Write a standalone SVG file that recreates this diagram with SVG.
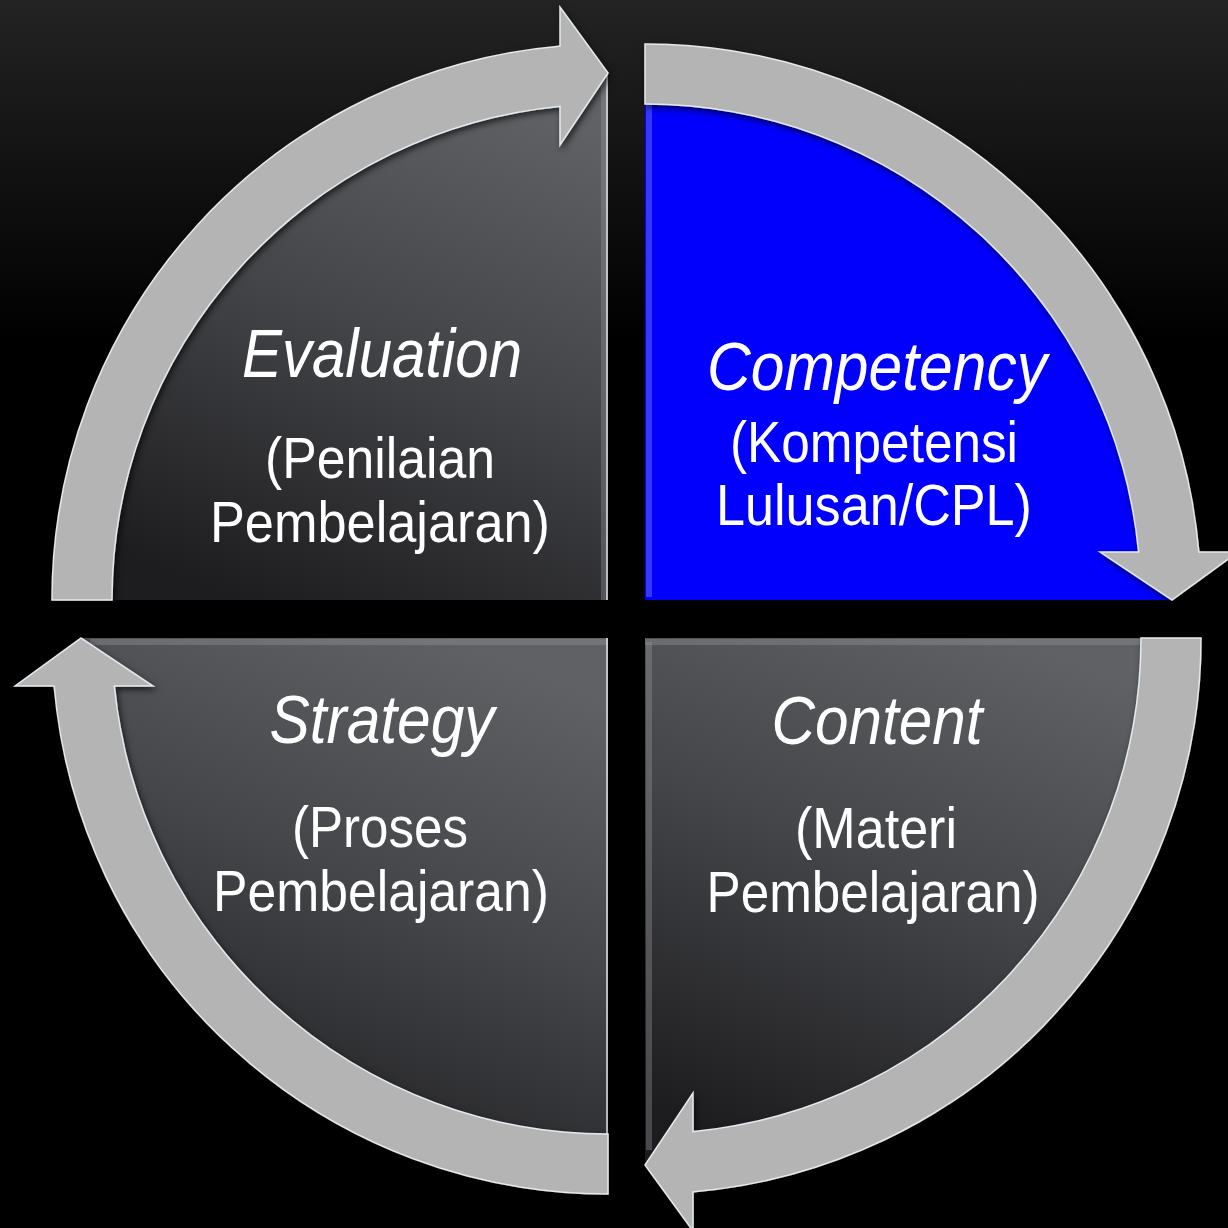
<svg xmlns="http://www.w3.org/2000/svg" width="1228" height="1228" viewBox="0 0 1228 1228">
  <defs>
    <linearGradient id="bg" x1="0" y1="0" x2="0" y2="1">
      <stop offset="0" stop-color="#232323"/>
      <stop offset="0.28" stop-color="#000000"/>
      <stop offset="1" stop-color="#000000"/>
    </linearGradient>
    <linearGradient id="dark" x1="0.7" y1="0" x2="0.3" y2="1">
      <stop offset="0" stop-color="#606164"/>
      <stop offset="0.45" stop-color="#45464a"/>
      <stop offset="1" stop-color="#1d1d1f"/>
    </linearGradient>
    <filter id="shadow" x="-10%" y="-10%" width="120%" height="120%">
      <feDropShadow dx="2" dy="3" stdDeviation="3" flood-color="#000" flood-opacity="0.65"/>
    </filter>
    <path id="band" d="M-556,0 A556,556 0 0 1 -48,-553.92 L-48,-593 L0,-527 L-48,-455 L-48,-493.67 A496,496 0 0 0 -496,0 Z"/>
  </defs>
  <style>
    .fill-dark { fill: url(#dark); }
    .fill-blue { fill: #0000fc; }
    .bevel { stroke: #dfe5ea; stroke-width: 2; opacity: 0.75; }
    .bevel-soft { stroke: #9a9ca0; stroke-width: 6; opacity: 0.35; }
    .bevel-blue { stroke: #5a5aff; stroke-width: 6; opacity: 0.6; }
    .arrow { fill: #b4b4b4; stroke: #e4eaee; stroke-width: 1.5; stroke-linejoin: miter; }
    .title { font-family: "Liberation Sans", Arial, sans-serif; font-style: italic; font-size: 68px; fill: #ffffff; text-anchor: middle; }
    .sub { font-family: "Liberation Sans", Arial, sans-serif; font-size: 58px; fill: #ffffff; text-anchor: middle; }
  </style>

  <rect x="0" y="0" width="1228" height="1228" fill="url(#bg)"/>

  <g id="node-evaluation">
    <path class="fill-dark" d="M608,600 L81,600 A527,527 0 0 1 608,73 Z"/>
    <line class="bevel-soft" x1="604" y1="80" x2="604" y2="600"/>
    <line class="bevel" x1="607" y1="73" x2="607" y2="600"/>
    <text class="title" x="382" y="377" textLength="280" lengthAdjust="spacingAndGlyphs">Evaluation</text>
    <text class="sub" x="380" y="478" textLength="230" lengthAdjust="spacingAndGlyphs">(Penilaian</text>
    <text class="sub" x="380" y="542" textLength="340" lengthAdjust="spacingAndGlyphs">Pembelajaran)</text>
  </g>

  <g id="node-competency">
    <path class="fill-blue" d="M645,600 L645,73 A527,527 0 0 1 1172,600 Z"/>
    <line class="bevel-blue" x1="649" y1="80" x2="649" y2="597"/>
    <text class="title" x="877" y="390" textLength="340" lengthAdjust="spacingAndGlyphs">Competency</text>
    <text class="sub" x="874" y="462" textLength="288" lengthAdjust="spacingAndGlyphs">(Kompetensi</text>
    <text class="sub" x="874" y="525" textLength="316" lengthAdjust="spacingAndGlyphs">Lulusan/CPL)</text>
  </g>

  <g id="node-content">
    <path class="fill-dark" d="M645,638 L1172,638 A527,527 0 0 1 645,1165 Z"/>
    <line class="bevel-soft" x1="645" y1="642" x2="1150" y2="642"/>
    <line class="bevel-soft" x1="649" y1="642" x2="649" y2="1150"/>
    <text class="title" x="877" y="744" textLength="211" lengthAdjust="spacingAndGlyphs">Content</text>
    <text class="sub" x="876" y="848" textLength="162" lengthAdjust="spacingAndGlyphs">(Materi</text>
    <text class="sub" x="873" y="912" textLength="333" lengthAdjust="spacingAndGlyphs">Pembelajaran)</text>
  </g>

  <g id="node-strategy">
    <path class="fill-dark" d="M608,638 L608,1165 A527,527 0 0 1 81,638 Z"/>
    <line class="bevel-soft" x1="90" y1="642" x2="608" y2="642"/>
    <line class="bevel" x1="607" y1="638" x2="607" y2="1160"/>
    <text class="title" x="382" y="743" textLength="225" lengthAdjust="spacingAndGlyphs">Strategy</text>
    <text class="sub" x="380" y="847" textLength="176" lengthAdjust="spacingAndGlyphs">(Proses</text>
    <text class="sub" x="381" y="911" textLength="336" lengthAdjust="spacingAndGlyphs">Pembelajaran)</text>
  </g>

  <g id="connectors" filter="url(#shadow)">
    <use class="arrow" href="#band" transform="translate(608,600)"/>
    <use class="arrow" href="#band" transform="translate(645,600) rotate(90)"/>
    <use class="arrow" href="#band" transform="translate(645,638) rotate(180)"/>
    <use class="arrow" href="#band" transform="translate(608,638) rotate(270)"/>
  </g>
</svg>
